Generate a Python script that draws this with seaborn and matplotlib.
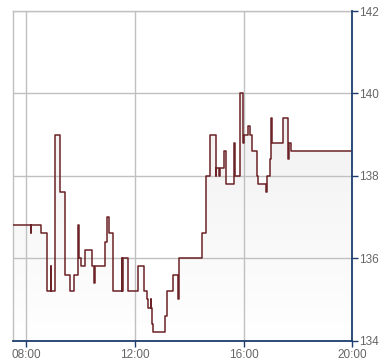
import matplotlib
matplotlib.use("Agg")
import matplotlib.pyplot as plt
from matplotlib.colors import LinearSegmentedColormap
import numpy as np
import pandas as pd
import seaborn as sns

times = ["07:32","08:10","08:11","08:32","08:47","08:55","08:56","09:03","09:14","09:25",
         "09:36","09:46","09:55","09:56","10:02","10:11","10:26","10:31","10:32","10:55",
         "10:58","11:02","11:04","11:11","11:31","11:32","11:33","11:34","11:35","11:44",
         "12:06","12:21","12:27","12:30","12:35","12:36","12:37","12:39","13:06","13:10",
         "13:25","13:36","13:37","14:28","14:37","14:46","14:58","15:00","15:06","15:07",
         "15:16","15:22","15:38","15:40","15:51","15:53","15:59","16:01","16:09","16:15",
         "16:18","16:29","16:31","16:49","16:51","16:57","17:00","17:03","17:26","17:37",
         "17:41","17:44","20:00"]
prices = [136.8,136.6,136.8,136.6,135.2,135.8,135.2,139.0,137.6,135.6,
          135.2,135.6,136.8,136.0,135.8,136.2,135.8,135.4,135.8,136.4,
          137.0,136.8,136.6,135.2,136.0,135.2,136.0,135.2,136.0,135.2,
          135.8,135.2,135.0,134.8,135.0,134.8,134.4,134.2,134.6,135.2,
          135.6,135.0,136.0,136.6,138.0,139.0,138.0,138.2,138.0,138.2,
          138.6,137.8,138.8,138.0,139.0,140.0,138.8,139.0,139.2,139.0,
          138.6,138.0,137.8,137.6,138.0,138.4,139.4,138.8,139.4,138.4,
          138.8,138.6,138.6]
x_ticks = ["08:00", "12:00", "16:00", "20:00"]
y_ticks = [134, 136, 138, 140, 142]

def to_hours(s):
    h, m = s.split(":")
    return int(h) + int(m) / 60.0

df = pd.DataFrame({"t": [to_hours(s) for s in times], "price": prices})

sns.set_style("white")
plt.rcParams["font.family"] = ["Liberation Sans", "DejaVu Sans"]

fig = plt.figure(figsize=(3.9, 3.64), dpi=100)
ax = fig.add_axes([13.3/390, 23.5/364, (352.5-13.3)/390, (340.5-11)/364])

xmin, xmax = to_hours("07:32"), to_hours("20:00")
ymin, ymax = 134, 142

# gradient fill under the step line
poly = ax.fill_between(df["t"], df["price"], ymin, step="post",
                       facecolor="none", edgecolor="none", zorder=0.1)
cmap = LinearSegmentedColormap.from_list("g", ["#ffffff", "#ebebeb"])
grad = np.linspace(0, 1, 256).reshape(-1, 1)
im = ax.imshow(grad, cmap=cmap, aspect="auto", origin="lower",
               extent=[xmin, xmax, ymin, ymax], zorder=0.2)
im.set_clip_path(poly.get_paths()[0], transform=ax.transData)

sns.lineplot(data=df, x="t", y="price", ax=ax, estimator=None, sort=True,
             drawstyle="steps-post", color="#6b2226", linewidth=1.1, zorder=3)

ax.set_xlim(xmin, xmax)
ax.set_ylim(ymin, ymax)
ax.set_xticks([to_hours(s) for s in x_ticks])
ax.set_xticklabels(x_ticks)
ax.set_yticks(y_ticks)
ax.set_yticklabels([str(v) for v in y_ticks])
ax.yaxis.tick_right()
ax.set_xlabel("")
ax.set_ylabel("")

ax.set_axisbelow(False)
ax.grid(True, color="#c0c0c0", linewidth=1, zorder=1)

navy = "#1c3d6e"
for side in ["left", "top"]:
    ax.spines[side].set_color("#c0c0c0")
    ax.spines[side].set_linewidth(1)
for side in ["right", "bottom"]:
    ax.spines[side].set_color(navy)
    ax.spines[side].set_linewidth(1.3)
    ax.spines[side].set_zorder(5)

ax.tick_params(axis="both", which="both", direction="out", length=4, width=1,
               color=navy, labelcolor="#666666", labelsize=8.5, pad=1)
ax.tick_params(axis="y", right=True, left=False, labelright=True, labelleft=False)
ax.tick_params(axis="x", bottom=True, pad=2)
for gl in ax.get_xgridlines() + ax.get_ygridlines():
    gl.set_zorder(1)

fig.savefig("out.png", dpi=100)
